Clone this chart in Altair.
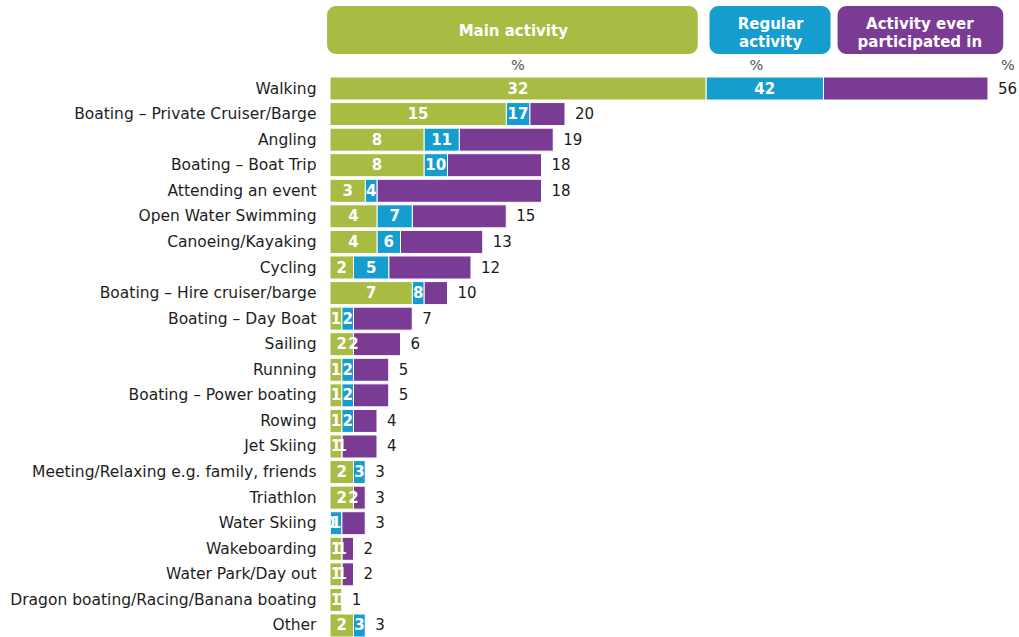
import altair as alt
import pandas as pd

activities = [
    "Walking", "Boating – Private Cruiser/Barge", "Angling", "Boating – Boat Trip",
    "Attending an event", "Open Water Swimming", "Canoeing/Kayaking", "Cycling",
    "Boating – Hire cruiser/barge", "Boating – Day Boat", "Sailing", "Running",
    "Boating – Power boating", "Rowing", "Jet Skiing",
    "Meeting/Relaxing e.g. family, friends", "Triathlon", "Water Skiing",
    "Wakeboarding", "Water Park/Day out", "Dragon boating/Racing/Banana boating", "Other",
]
main = [32, 15, 8, 8, 3, 4, 4, 2, 7, 1, 2, 1, 1, 1, 1, 2, 2, 0, 1, 1, 1, 2]
regular = [42, 17, 11, 10, 4, 7, 6, 5, 8, 2, 2, 2, 2, 2, 1, 3, 2, 1, 1, 1, 1, 3]
ever = [56, 20, 19, 18, 18, 15, 13, 12, 10, 7, 6, 5, 5, 4, 4, 3, 3, 3, 2, 2, 1, 3]

series_names = ["Main activity", "Regular activity", "Activity ever participated in"]
series_colors = ["#a8bc44", "#159dcf", "#7a3b95"]
header_texts = ["Main activity", "Regular\nactivity", "Activity ever\nparticipated in"]
header_lines = [1, 2, 2]
header_x0 = [-0.25, 32.3, 43.2]
header_x1 = [31.3, 42.6, 57.3]
header_xc = [15.6, 37.5, 50.2]
pct_x = [16.0, 36.3, 57.7]

bar_rows = []
for a, m, r, e in zip(activities, main, regular, ever):
    bar_rows.append(dict(activity=a, series=series_names[2], start=r, end=e))
    bar_rows.append(dict(activity=a, series=series_names[1], start=m, end=r))
    bar_rows.append(dict(activity=a, series=series_names[0], start=0, end=m))
bars_df = pd.DataFrame(bar_rows)

in_rows = []
for a, m, r in zip(activities, main, regular):
    in_rows.append(dict(activity=a, pos=m / 2, label=str(m)))
    in_rows.append(dict(activity=a, pos=(m + r) / 2, label=str(r)))
in_df = pd.DataFrame(in_rows)

out_df = pd.DataFrame({"activity": activities, "pos": ever, "label": [str(v) for v in ever]})

hdr_df = pd.DataFrame({"hx0": header_x0, "hx1": header_x1, "hxc": header_xc,
                       "txt": header_texts, "series": series_names, "nl": header_lines})
pct_df = pd.DataFrame({"px": pct_x, "t": ["%", "%", "%"]})

xscale = alt.Scale(domain=[0, 58.64], nice=False, zero=False)
yscale = alt.Scale(domain=activities, paddingInner=0.1, paddingOuter=0)
yenc = alt.Y("activity:N", scale=yscale,
             axis=alt.Axis(title=None, domain=False, ticks=False, labelPadding=14,
                           labelFontSize=15.5, labelColor="#1e1e1e", labelFont="DejaVu Sans",
                           labelLimit=400))
color = alt.Color("series:N", scale=alt.Scale(domain=series_names, range=series_colors), legend=None)

bars = alt.Chart(bars_df).mark_bar(stroke="white", strokeWidth=1).encode(
    x=alt.X("start:Q", scale=xscale, axis=None),
    x2="end:Q",
    y=yenc,
    color=color,
)

inner = alt.Chart(in_df).mark_text(color="white", fontWeight="bold", fontSize=15,
                                   font="DejaVu Sans", baseline="middle", align="center").encode(
    x=alt.X("pos:Q", scale=xscale, axis=None),
    y=alt.Y("activity:N", scale=yscale),
    text="label:N",
)

outer = alt.Chart(out_df).mark_text(color="#1a1a1a", fontSize=15, font="DejaVu Sans",
                                    baseline="middle", align="left", dx=10).encode(
    x=alt.X("pos:Q", scale=xscale, axis=None),
    y=alt.Y("activity:N", scale=yscale),
    text="label:N",
)

hdr_box = alt.Chart(hdr_df).mark_rect(cornerRadius=9).encode(
    x=alt.X("hx0:Q", scale=xscale, axis=None),
    x2="hx1:Q",
    y=alt.value(-71),
    y2=alt.value(-23),
    color=color,
)

hdr_txt1 = alt.Chart(hdr_df).transform_filter("datum.nl == 1").mark_text(
    color="white", fontWeight="bold", fontSize=15, font="DejaVu Sans",
    baseline="middle", align="center").encode(
    x=alt.X("hxc:Q", scale=xscale, axis=None),
    y=alt.value(-46),
    text="txt:N",
)

hdr_txt2 = alt.Chart(hdr_df).transform_filter("datum.nl == 2").mark_text(
    color="white", fontWeight="bold", fontSize=15, font="DejaVu Sans",
    baseline="middle", align="center", lineHeight=18, lineBreak="\n").encode(
    x=alt.X("hxc:Q", scale=xscale, axis=None),
    y=alt.value(-53),
    text="txt:N",
)

pct = alt.Chart(pct_df).mark_text(color="#555555", fontSize=14.5, font="DejaVu Sans",
                                  baseline="middle", align="center").encode(
    x=alt.X("px:Q", scale=xscale, axis=None),
    y=alt.value(-11),
    text="t:N",
)

chart = alt.layer(bars, inner, outer, hdr_box, hdr_txt1, hdr_txt2, pct).properties(
    width=689, height=560,
    autosize=alt.AutoSizeParams(type="none"),
    padding={"left": 330, "top": 77, "right": 0, "bottom": 0},
    background="white",
).configure_view(stroke=None)

chart.save("out.html", embed_options={"renderer": "svg", "actions": False})
